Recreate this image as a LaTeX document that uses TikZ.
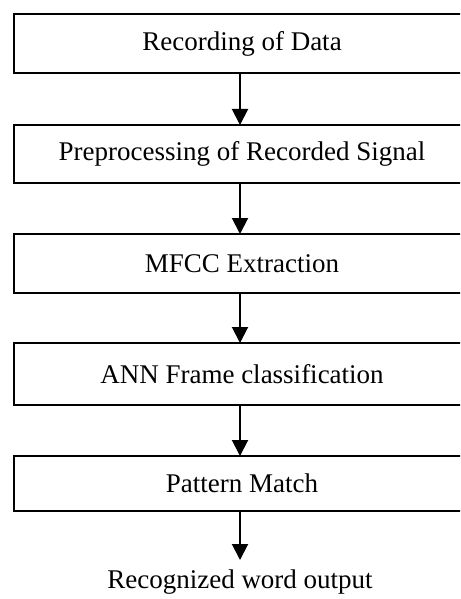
\documentclass[tikz,border=0pt]{standalone}
\usepackage{fontspec}
\setmainfont{Liberation Serif}
\usetikzlibrary{arrows.meta}
\begin{document}
\begin{tikzpicture}[x=0.45pt, y=-0.45pt,
  stagebox/.style={draw, line width=0.9pt, rectangle, inner sep=0pt, outer sep=0pt,
    minimum width=205.2pt, font=\fontsize{12.15}{14}\selectfont},
  flow/.style={line width=0.9pt, -{Triangle[width=7.2pt,length=7.2pt]}},
  outlabel/.style={font=\fontsize{12.15}{14}\selectfont, inner sep=0pt, anchor=base}]
  \useasboundingbox (0,0) rectangle (460,599);
  \clip (0,0) rectangle (460,599);
  % the boxes run past the right edge of the page
  \node[stagebox, minimum height=26.55pt] (rec) at (242,43.5) {Recording of Data};
  \node[stagebox, minimum height=26.1pt] (pre) at (242,154) {Preprocessing of Recorded Signal};
  \node[stagebox, minimum height=26.55pt] (mfcc) at (242,263.5) {MFCC Extraction};
  \node[stagebox, minimum height=27.9pt] (ann) at (242,374) {ANN Frame classification};
  \node[stagebox, minimum height=24.75pt] (pat) at (242,483.5) {Pattern Match};
  \coordinate (end) at (240,560);
  \node[outlabel] (word) at (240,588) {Recognized word output};
  \draw[flow] (rec.south -| end) -- (pre.north -| end);
  \draw[flow] (pre.south -| end) -- (mfcc.north -| end);
  \draw[flow] (mfcc.south -| end) -- (ann.north -| end);
  \draw[flow] (ann.south -| end) -- (pat.north -| end);
  \draw[flow] (pat.south -| end) -- (end);
\end{tikzpicture}
\end{document}
